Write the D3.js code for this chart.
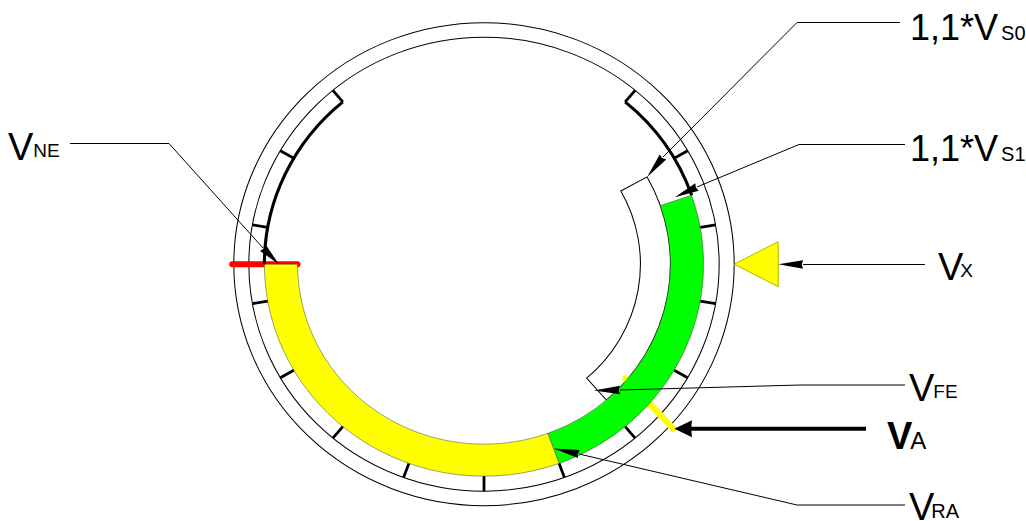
<!DOCTYPE html>
<html><head><meta charset="utf-8">
<script src="https://cdnjs.cloudflare.com/ajax/libs/d3/7.8.5/d3.min.js"></script>
<style>html,body{margin:0;padding:0;background:#fff}svg{display:block}text{font-family:"Liberation Sans",Arial,sans-serif;fill:#000}</style>
</head><body><svg id="c" width="1026" height="521"></svg>
<script>
// Dial values, in units of one scale division (0 = upper-right tick, 14 = upper-left tick)
const tickValues = [0,1,2,3,4,5,6,7,8,9,10,11,12,13,14];
const VS0 = 1.05, VS1 = 1.55, VX = 2.5, VFE = 4.95, VRA = 6, VNE = 11.5, VAin = 4.5, VAout = 4.6;
const labelNames = ["VS0","VS1","VX","VFE","VRA","VNE"];
const labelMain = ["1,1*V","1,1*V","V","V","V","V"];
const labelSub = ["S0","S1","X","FE","RA","NE"];
const tipValues = [1.05,1.5,2.5,5,6,11.5];

// Layout
const cx = 484, cy = 264.2, kx = 1.036;
const R = {outer:241.5, inner:227, band:212, bandIn:180, whiteIn:151, red0:180, red1:243, tri:241.5};
const tipRadii = [180,196,284,165,196,198];
const leaderPaths = [
  [[900,22.5],[797,22.5],[663,157]],
  [[905,144.5],[799,144.5],[697,187]],
  [[925,264.5],[803,264.5]],
  [[905,385],[800,385],[620,390]],
  [[905,505],[797,505],[579,454]],
  [[70,143.5],[169,143.5],[263,248]]
];
const labelPos = [[910,40],[910,161],[938,280],[909,401],[909,520],[8,160]];
const mainSize = [36,36,38,38,38,38];
const subSize = [20,20,19,19,20,19];
const subDx = [3,3,-3,-1,-3,0];
const subDy = [0,0,-3,-3,-2,-3];

const svg = d3.select("#c");
const angle = d3.scaleLinear().domain([0,14]).range([40*Math.PI/180,320*Math.PI/180]);
const polar = (v,r)=>[cx+kx*r*Math.sin(angle(v)), cy-r*Math.cos(angle(v))];
const arc = d3.arc();
const arcD = (v0,v1,r0,r1)=>arc({startAngle:angle(v0),endAngle:angle(v1),innerRadius:r0,outerRadius:r1});
const dialLayer = ()=>svg.append("g").attr("transform",`translate(${cx},${cy}) scale(${kx},1)`);

// Rings and white flap arc
const back = dialLayer();
back.selectAll("circle.ring").data([R.outer,R.inner]).join("circle")
  .attr("class","ring").attr("r",d=>d).attr("fill","none").attr("stroke","#000").attr("stroke-width",1);
back.append("path").attr("d",arcD(VS0,VFE,R.whiteIn,R.bandIn)).attr("fill","#fff").attr("stroke","#000").attr("stroke-width",1);
// VA line and VNE red line sit below the coloured arcs
const vaA = polar(VAin,178), vaB = polar(VAout,246);
svg.append("line").attr("x1",vaA[0]).attr("y1",vaA[1]).attr("x2",vaB[0]).attr("y2",vaB[1])
  .attr("stroke","#ffff00").attr("stroke-width",6.5).attr("stroke-linecap","round");
const rA = polar(VNE,R.red0), rB = polar(VNE,R.red1);
svg.append("line").attr("x1",rA[0]).attr("y1",rA[1]).attr("x2",rB[0]).attr("y2",rB[1])
  .attr("stroke","#ff0000").attr("stroke-width",6).attr("stroke-linecap","round");
// Coloured arcs
const front = dialLayer();
front.append("path").attr("d",arcD(VS1,VRA,R.bandIn,R.band)).attr("fill","#00ff00").attr("stroke","#444").attr("stroke-width",.5);
front.append("path").attr("d",arcD(VRA,VNE,R.bandIn,R.band)).attr("fill","#ffff00").attr("stroke","#444").attr("stroke-width",.5);
// Black scale arcs
[[0,VS1],[VNE,14]].forEach(s=>{
  const a = d3.arc().startAngle(angle(s[0])).endAngle(angle(s[1])).innerRadius(R.band).outerRadius(R.band)();
  front.append("path").attr("d",a).attr("fill","none").attr("stroke","#000").attr("stroke-width",3);
});
// Ticks
svg.selectAll("line.tick").data(tickValues).join("line").attr("class","tick")
  .attr("x1",d=>polar(d,R.band)[0]).attr("y1",d=>polar(d,R.band)[1])
  .attr("x2",d=>polar(d,R.inner)[0]).attr("y2",d=>polar(d,R.inner)[1])
  .attr("stroke","#000").attr("stroke-width",2.8);
// VX triangle
const tt = polar(VX,R.tri);
svg.append("path").attr("d",d3.line()([tt,[tt[0]+44,tt[1]-22.5],[tt[0]+44,tt[1]+22.5]])+"Z")
  .attr("fill","#ffff00").attr("stroke","#b5b500").attr("stroke-width",1);

// Leaders with arrow heads
const head = (tip,base,hw)=>{
  const dx=base[0]-tip[0], dy=base[1]-tip[1], L=Math.hypot(dx,dy), nx=-dy/L, ny=dx/L;
  return d3.line()([tip,[base[0]+nx*hw,base[1]+ny*hw],[tip[0]+dx*.95,tip[1]+dy*.95],[base[0]-nx*hw,base[1]-ny*hw]])+"Z";
};
labelNames.forEach((n,i)=>{
  const tip = polar(tipValues[i],tipRadii[i]);
  const p = leaderPaths[i];
  svg.append("path").attr("d",d3.line()(p)).attr("fill","none").attr("stroke","#000").attr("stroke-width",1);
  svg.append("path").attr("d",head(tip,p[p.length-1],4.2)).attr("fill","#000");
  const t = svg.append("text").attr("x",labelPos[i][0]).attr("y",labelPos[i][1]);
  t.append("tspan").attr("font-size",mainSize[i]).text(labelMain[i]);
  t.append("tspan").attr("font-size",subSize[i]).attr("dx",subDx[i]).attr("dy",subDy[i]).text(labelSub[i]);
});
// VA leader
const vaTip = polar(VAout,246);
svg.append("line").attr("x1",866).attr("y1",vaTip[1]).attr("x2",688).attr("y2",vaTip[1]).attr("stroke","#000").attr("stroke-width",4);
svg.append("path").attr("d",head([vaTip[0]+1,vaTip[1]],[692,vaTip[1]],8.5)).attr("fill","#000");
const va = svg.append("text").attr("x",887).attr("y",449);
va.append("tspan").attr("font-size",38).attr("font-weight","bold").text("V");
va.append("tspan").attr("font-size",24).attr("dx",-2).text("A");
</script></body></html>
